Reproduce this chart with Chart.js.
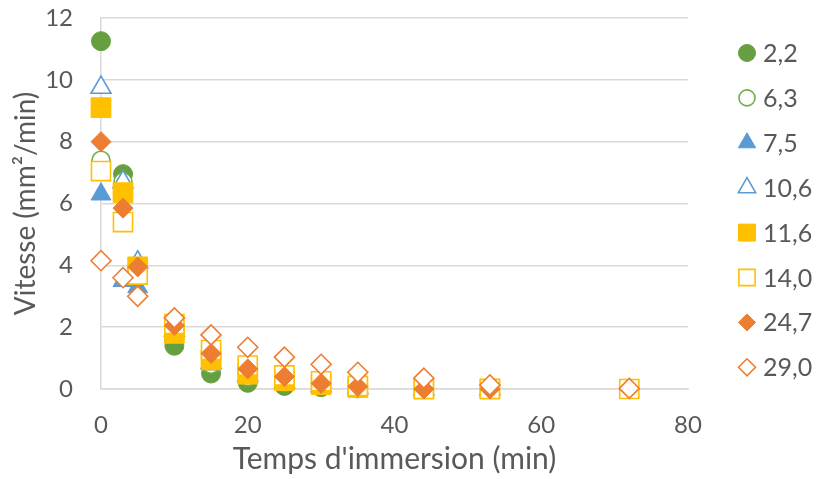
<!DOCTYPE html>
<html>
<head>
<meta charset="utf-8">
<script src="https://cdn.jsdelivr.net/npm/chart.js@4"></script>
<style>
  html, body { margin: 0; padding: 0; background: #fff; }
  #wrap { width: 818px; height: 479px; }
</style>
</head>
<body>
<div id="wrap"><canvas id="chart"></canvas></div>
<script>
// ========== 数据 ==========
const times = [0, 3, 5, 10, 15, 20, 25, 30, 35, 44, 53, 72];
const xTicks = [0, 20, 40, 60, 80];
const yTicks = [0, 2, 4, 6, 8, 10, 12];

const v22  = [11.25, 6.95, 3.8, 1.4, 0.5, 0.2, 0.1, 0.06, 0.02, 0, 0, null];
const v63  = [7.4, 6.7, 3.9, 1.8, 0.8, 0.4, 0.2, 0.1, 0.05, 0, 0, null];
const v75  = [6.3, 3.5, 3.3, 1.8, 0.8, 0.42, 0.22, 0.1, 0.03, 0, 0, null];
const v106 = [9.75, 6.7, 4.1, 1.9, 0.85, 0.45, 0.22, 0.1, 0.04, 0, 0, null];
const v116 = [9.1, 6.35, 3.95, 1.8, 0.94, 0.48, 0.27, 0.14, 0.05, 0, 0, null];
const v140 = [7.05, 5.4, 3.7, 2.1, 1.26, 0.76, 0.44, 0.25, 0.1, 0, 0, 0];
const v247 = [8.0, 5.85, 3.95, 2.05, 1.15, 0.65, 0.4, 0.18, 0.08, 0, 0, null];
const v290 = [4.15, 3.6, 3.0, 2.3, 1.75, 1.35, 1.03, 0.8, 0.54, 0.35, 0.13, 0.02];

const labels = ['2,2', '6,3', '7,5', '10,6', '11,6', '14,0', '24,7', '29,0'];
const seriesValues = [v22, v63, v75, v106, v116, v140, v247, v290];

// ========== 样式 ==========
const GREEN = '#70AD47', GREEN_DARK = '#669F40', BLUE = '#5B9BD5', YELLOW = '#FFC000', ORANGE = '#ED7D31';
const styles = [
    { style: 'circle',   color: GREEN_DARK, filled: true,  r: 9.5,  lr: 8.5 },
    { style: 'circle',   color: GREEN,      filled: false, r: 9,    lr: 8 },
    { style: 'triangle', color: BLUE,       filled: true,  r: 11.5, lr: 10 },
    { style: 'triangle', color: BLUE,       filled: false, r: 11.5, lr: 10 },
    { style: 'rect',     color: YELLOW,     filled: true,  r: 14,   lr: 12 },
    { style: 'rect',     color: YELLOW,     filled: false, r: 13.5, lr: 11.5 },
    { style: 'rectRot',  color: ORANGE,     filled: true,  r: 10,   lr: 8.5 },
    { style: 'rectRot',  color: ORANGE,     filled: false, r: 10,   lr: 8.5 }
];

const datasets = seriesValues.map((vals, i) => {
    const s = styles[i];
    return {
        label: labels[i],
        data: times.map((t, k) => ({ x: t, y: vals[k] })).filter(p => p.y !== null),
        pointStyle: s.style,
        pointRadius: s.r,
        pointBackgroundColor: s.filled ? s.color : '#ffffff',
        pointBorderColor: s.color,
        pointBorderWidth: s.filled ? 1 : 1.6,
        showLine: false,
        clip: false,
        order: labels.length - i
    };
});

const FONT = 'Lato, "Open Sans", sans-serif';
const TXT = '#595959';

// ========== 图例 (右侧) ==========
function marker(ctx, style, x, y, r) {
    ctx.beginPath();
    if (style === 'circle') {
        ctx.arc(x, y, r, 0, Math.PI * 2);
    } else if (style === 'triangle') {
        ctx.moveTo(x, y - r);
        ctx.lineTo(x + r * Math.sin(Math.PI * 2 / 3), y + r / 2);
        ctx.lineTo(x - r * Math.sin(Math.PI * 2 / 3), y + r / 2);
    } else if (style === 'rect') {
        const h = r * Math.SQRT1_2;
        ctx.rect(x - h, y - h, 2 * h, 2 * h);
    } else {
        ctx.moveTo(x - r, y);
        ctx.lineTo(x, y - r);
        ctx.lineTo(x + r, y);
        ctx.lineTo(x, y + r);
    }
    ctx.closePath();
}

const sideLegend = {
    id: 'sideLegend',
    afterDraw(chart) {
        const ctx = chart.ctx;
        ctx.save();
        ctx.font = '25px ' + FONT;
        ctx.textBaseline = 'middle';
        ctx.textAlign = 'left';
        labels.forEach((lab, i) => {
            const s = styles[i];
            const y = 53 + i * 44.9;
            marker(ctx, s.style, 747, y, s.lr);
            ctx.fillStyle = s.filled ? s.color : '#ffffff';
            ctx.fill();
            ctx.lineWidth = s.filled ? 1 : 1.6;
            ctx.strokeStyle = s.color;
            ctx.stroke();
            ctx.fillStyle = TXT;
            ctx.fillText(lab, 763, y + 1);
        });
        ctx.restore();
    }
};

new Chart(document.getElementById('chart'), {
    type: 'scatter',
    data: { datasets },
    plugins: [sideLegend],
    options: {
        responsive: true,
        maintainAspectRatio: false,
        animation: false,
        events: [],
        layout: { padding: { left: 9, right: 130, top: 0, bottom: 0 } },
        plugins: {
            tooltip: { enabled: false },
            legend: { display: false }
        },
        scales: {
            x: {
                type: 'linear',
                min: 0,
                max: 80,
                afterBuildTicks: s => { s.ticks = xTicks.map(v => ({ value: v })); },
                afterFit: s => { s.height = 90; },
                grid: { display: false, drawTicks: false },
                border: { display: true, color: '#D9D9D9', width: 1.5 },
                ticks: { color: TXT, font: { family: FONT, size: 24 }, padding: 22 },
                title: { display: true, text: "Temps d'immersion (min)", color: TXT, font: { family: FONT, size: 30 }, padding: { top: 0, bottom: 2 } }
            },
            y: {
                type: 'linear',
                min: 0,
                max: 12,
                afterBuildTicks: s => { s.ticks = yTicks.map(v => ({ value: v })); },
                afterFit: s => { s.width = 92; s.paddingTop = 18; s.paddingBottom = 0; },
                grid: { color: '#D9D9D9', lineWidth: 1.5, drawTicks: false },
                border: { display: true, color: '#D9D9D9', width: 1.5 },
                ticks: { color: TXT, font: { family: FONT, size: 24 }, padding: 28 },
                title: { display: true, text: 'Vitesse (mm²/min)', color: TXT, font: { family: FONT, size: 28 }, padding: 0 }
            }
        }
    }
});
</script>
</body>
</html>
